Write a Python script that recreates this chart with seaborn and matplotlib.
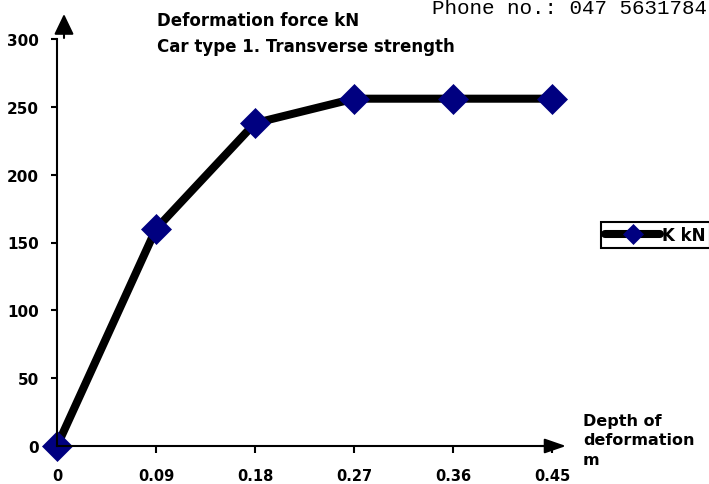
import matplotlib
matplotlib.use("Agg")
import matplotlib.pyplot as plt
import seaborn as sns
import pandas as pd
from matplotlib.patches import ArrowStyle

# ---- data ----
depth_m = [0.0, 0.09, 0.18, 0.27, 0.36, 0.45]
depth_labels = ["0", "0.09", "0.18", "0.27", "0.36", "0.45"]
force_kN = [0, 160, 238, 256, 256, 256]
y_ticks = [0, 50, 100, 150, 200, 250, 300]
series_name = "K kN"
title_lines = ["Deformation force kN", "Car type 1. Transverse strength"]
x_label = "Depth of\ndeformation\nm"
phone_text = "Phone no.: 047 5631784"

sns.set_style("white")
plt.rcParams["font.family"] = ["DejaVu Sans"]
plt.rcParams["text.color"] = "black"
plt.rcParams["xtick.color"] = "black"
plt.rcParams["ytick.color"] = "black"
plt.rcParams["axes.labelcolor"] = "black"

W, H = 709, 485
fig = plt.figure(figsize=(W / 100, H / 100), dpi=100)

# axes placement in pixels (top-left origin)
x0_px, x1_px = 57, 552
y0_px, y1_px = 447, 40
ax = fig.add_axes([x0_px / W, 1 - y0_px / H, (x1_px - x0_px) / W, (y0_px - y1_px) / H])

df = pd.DataFrame({"depth": depth_m, "force": force_kN})
sns.lineplot(data=df, x="depth", y="force", ax=ax, color="black", linewidth=5.8,
             marker="D", markersize=15.5, markerfacecolor="#000080",
             markeredgecolor="#000080", markeredgewidth=0.5,
             label=series_name, clip_on=False, sort=False, estimator=None, legend=False)
for ln in ax.lines:
    ln.set_clip_on(False)
    ln.set_solid_capstyle("round")
    ln.set_solid_joinstyle("round")

ax.set_xlim(depth_m[0], depth_m[-1])
ax.set_ylim(0, 300)
ax.set_xticks(depth_m)
ax.set_xticklabels(depth_labels)
ax.set_yticks(y_ticks)
ax.set_yticklabels([str(v) for v in y_ticks])
ax.set_xlabel("")
ax.set_ylabel("")

for s in ["top", "right"]:
    ax.spines[s].set_visible(False)
for s in ["left", "bottom"]:
    ax.spines[s].set_linewidth(1.5)
    ax.spines[s].set_color("black")

ax.tick_params(axis="y", direction="out", length=4, width=1.5, pad=9,
               labelsize=11, left=True, colors="black")
ax.tick_params(axis="x", direction="out", length=5, width=1.5, pad=11,
               labelsize=10.5, bottom=True, colors="black")
for lab in ax.get_xticklabels() + ax.get_yticklabels():
    lab.set_fontweight("bold")
ax.patch.set_alpha(0)

# arrows (decorations) in figure pixels (bottom-left origin)
ax.annotate("", xy=(566, H - 447), xytext=(540, H - 447), xycoords="figure pixels",
            textcoords="figure pixels",
            arrowprops=dict(arrowstyle=ArrowStyle("-|>", head_length=1.3, head_width=0.45),
                            color="black", lw=1.5, shrinkA=0, shrinkB=0, mutation_scale=10))
ax.annotate("", xy=(64, H - 15), xytext=(64, H - 39), xycoords="figure pixels",
            textcoords="figure pixels",
            arrowprops=dict(arrowstyle=ArrowStyle("-|>", head_length=1.25, head_width=0.6),
                            color="black", lw=1.5, shrinkA=0, shrinkB=0, mutation_scale=10))

# titles
fig.text(157 / W, 1 - 21 / H, title_lines[0], fontsize=12, fontweight="bold",
         ha="left", va="center", color="black")
fig.text(157 / W, 1 - 47 / H, title_lines[1], fontsize=12, fontweight="bold",
         ha="left", va="center", color="black")

# phone text
fig.text(707 / W, 1 - 9 / H, phone_text, fontsize=15, family="Liberation Mono",
         ha="right", va="center", color="black")

# x axis label
fig.text(583 / W, 1 - 441 / H, x_label, fontsize=11.5, fontweight="bold",
         ha="left", va="center", linespacing=1.4, color="black")

# legend
leg = fig.legend(handles=ax.lines[:1], labels=[series_name], loc="upper left",
                 bbox_to_anchor=(601 / W, 1 - 223 / H), bbox_transform=fig.transFigure,
                 frameon=True, fancybox=False, edgecolor="black", framealpha=1,
                 handlelength=3.3, handletextpad=0.1, borderpad=0.25,
                 borderaxespad=0, markerscale=0.65,
                 prop={"weight": "bold", "size": 12})
leg.get_frame().set_linewidth(1.5)
for t in leg.get_texts():
    t.set_color("black")

fig.savefig("out.png", dpi=100)
